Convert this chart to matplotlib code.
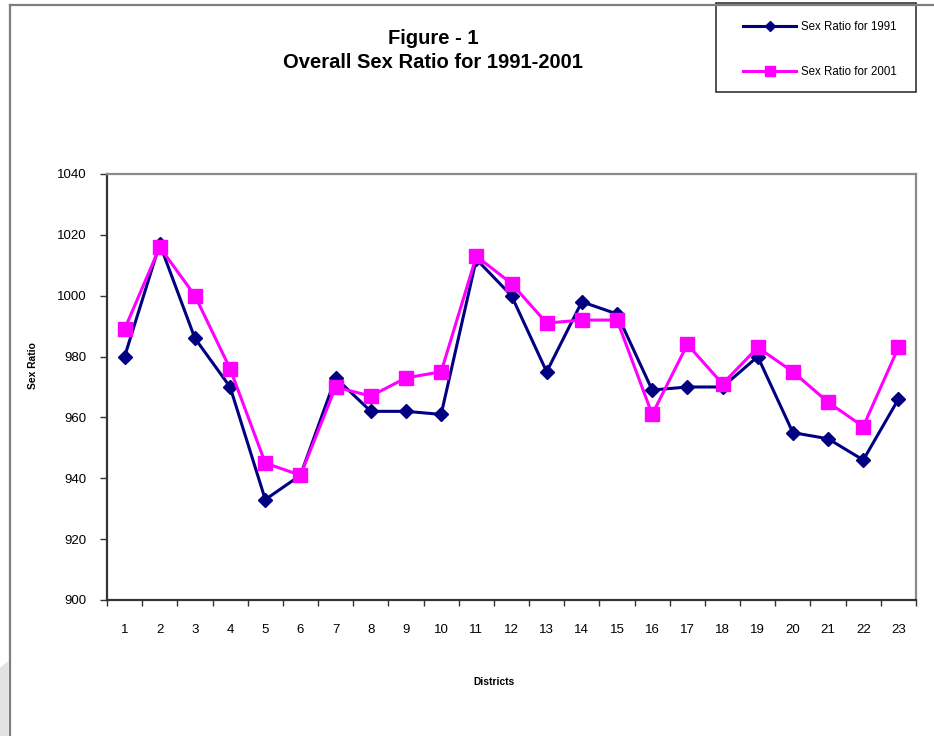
import matplotlib
matplotlib.use("Agg")
import matplotlib.pyplot as plt
from matplotlib.patches import Rectangle, Polygon
from matplotlib.lines import Line2D

plt.rcParams['font.family'] = ['Liberation Sans', 'DejaVu Sans']

districts = list(range(1, 24))
ratio_1991 = [980, 1017, 986, 970, 933, 941, 973, 962, 962, 961, 1012, 1000,
              975, 998, 994, 969, 970, 970, 980, 955, 953, 946, 966]
ratio_2001 = [989, 1016, 1000, 976, 945, 941, 970, 967, 973, 975, 1013, 1004,
              991, 992, 992, 961, 984, 971, 983, 975, 965, 957, 983]
y_ticks = [900, 920, 940, 960, 980, 1000, 1020, 1040]

W, H = 934, 736
fig = plt.figure(figsize=(W / 100, H / 100), dpi=100)


def fx(px):
    return px / W


def fy(py):
    return 1 - py / H


# outer chart frame (left and top edges visible)
fig.add_artist(Line2D([fx(10), fx(10)], [fy(5), 0], transform=fig.transFigure,
                      color='#7f7f7f', lw=1.6))
fig.add_artist(Line2D([fx(10), 1], [fy(5), fy(5)], transform=fig.transFigure,
                      color='#7f7f7f', lw=1.6))
# light grey sheet edge at bottom left
fig.add_artist(Polygon([(0, fy(668)), (fx(8.5), fy(661)), (fx(8.5), 0), (0, 0)],
                       closed=True, transform=fig.transFigure,
                       facecolor='#e2e2e2', edgecolor='none'))

ax = fig.add_axes([fx(107), fy(600), fx(916) - fx(107), (600 - 174) / H])
ax.plot(districts, ratio_1991, color='#000080', lw=2.2, marker='D', ms=7.2,
        markeredgecolor='#000080', markerfacecolor='#000080', label='Sex Ratio for 1991')
ax.plot(districts, ratio_2001, color='#ff00ff', lw=2.2, marker='s', ms=10.5,
        markeredgecolor='#ff00ff', markerfacecolor='#ff00ff', label='Sex Ratio for 2001')

ax.set_xlim(0.5, 23.5)
ax.set_ylim(900, 1040)
ax.set_yticks(y_ticks)
ax.set_xticks(districts)
ax.set_xticklabels([str(d) for d in districts])
ax.set_xticks([d + 0.5 for d in range(0, 24)], minor=True)
ax.tick_params(axis='x', which='major', length=0, pad=17, labelsize=9.5)
ax.tick_params(axis='x', which='minor', length=4, width=1, color='#333333', direction='out')
ax.tick_params(axis='y', length=5, width=1, color='#333333', pad=10, labelsize=9.5)

for side in ('left', 'bottom'):
    ax.spines[side].set_color('#333333')
    ax.spines[side].set_linewidth(1.6)
for side in ('top', 'right'):
    ax.spines[side].set_color('#8a8a8a')
    ax.spines[side].set_linewidth(1.6)

fig.text(fx(433), fy(38), 'Figure - 1', ha='center', va='center',
         fontsize=14.5, fontweight='bold')
fig.text(fx(433), fy(62), 'Overall Sex Ratio for 1991-2001', ha='center', va='center',
         fontsize=14.5, fontweight='bold')
fig.text(fx(33), fy(366), 'Sex Ratio', rotation=90, ha='center', va='center',
         fontsize=7.4, fontweight='bold')
fig.text(fx(494), fy(682), 'Districts', ha='center', va='center',
         fontsize=7.4, fontweight='bold')

# legend box
fig.add_artist(Rectangle((fx(716), fy(92)), fx(916) - fx(716), fy(3) - fy(92),
                         transform=fig.transFigure, facecolor='white',
                         edgecolor='#222222', lw=1.1))
leg = fig.legend(loc='upper left', bbox_to_anchor=(fx(743), fy(21)),
                 frameon=False, fontsize=8.3, handlelength=4.6,
                 handletextpad=0.45, labelspacing=2.9, borderpad=0,
                 borderaxespad=0)
for h in leg.legend_handles:
    if h.get_marker() == 'D':
        h.set_markersize(5)
    else:
        h.set_markersize(7.5)

fig.savefig('out.png', dpi=100)
